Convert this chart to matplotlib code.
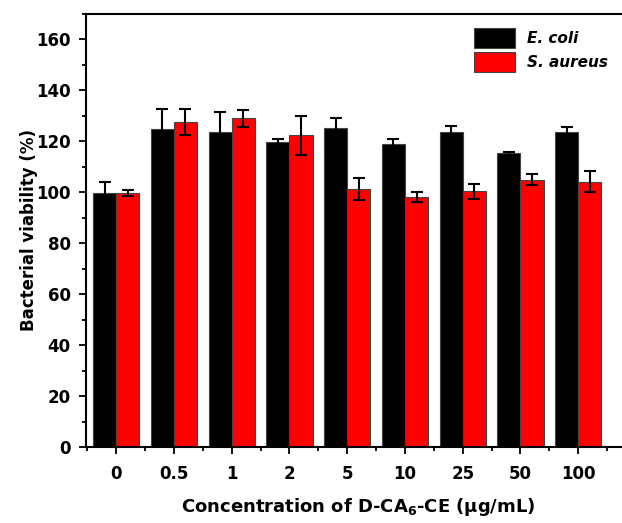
import numpy as np
import matplotlib
matplotlib.use("Agg")
import matplotlib.pyplot as plt
from matplotlib.ticker import MultipleLocator, FixedLocator

plt.rcParams['font.family'] = ['DejaVu Sans']
plt.rcParams['font.weight'] = 'bold'
plt.rcParams['mathtext.default'] = 'bf'

conc = ["0", "0.5", "1", "2", "5", "10", "25", "50", "100"]
ecoli = [99.8, 124.8, 123.8, 119.6, 125.1, 118.9, 123.8, 115.3, 123.7]
ecoli_err = [4.2, 7.8, 7.7, 1.3, 4.2, 2.1, 2.2, 0.5, 1.8]
saureus = [99.8, 127.5, 129.1, 122.3, 101.4, 98.2, 100.4, 105.0, 104.2]
saureus_err = [1.2, 5.0, 3.3, 7.6, 4.3, 2.1, 3.0, 2.2, 4.0]

x = np.arange(len(conc))
w = 0.4

fig = plt.figure(figsize=(6.22, 5.23), dpi=100)
ax = fig.add_axes([0.1383, 0.1453, 0.875, 0.828])

ekw = dict(ecolor="black", elinewidth=1.5, capsize=4, capthick=1.5)
ax.bar(x - w / 2, ecoli, w, yerr=ecoli_err, color="black", edgecolor="#444444",
       linewidth=0.8, error_kw=ekw, label="E. coli")
ax.bar(x + w / 2, saureus, w, yerr=saureus_err, color="#ff0000", edgecolor="#444444",
       linewidth=0.8, error_kw=ekw, label="S. aureus")

ax.set_xlim(-0.52, 8.9)
ax.set_ylim(0, 170)
ax.set_xticks(x)
ax.set_xticklabels(conc)
ax.xaxis.set_minor_locator(FixedLocator(np.arange(-0.5, 9, 1)))
ax.yaxis.set_major_locator(MultipleLocator(20))
ax.yaxis.set_minor_locator(MultipleLocator(10))
ax.tick_params(which="major", direction="out", length=5, width=1.3, labelsize=12)
ax.tick_params(axis="x", pad=8)
ax.tick_params(axis="y", pad=6)
ax.tick_params(which="minor", direction="out", length=3, width=1.3)
for s in ax.spines.values():
    s.set_linewidth(1.5)

ax.set_ylabel("Bacterial viability (%)", fontsize=12, fontweight="bold", labelpad=-1)
ax.set_xlabel("Concentration of D-CA$_6$-CE (\u00b5g/mL)", fontsize=13,
              fontweight="bold", labelpad=9)

leg = ax.legend(loc="upper left", bbox_to_anchor=(474 / 622, 1 - 28 / 523),
                bbox_transform=fig.transFigure, frameon=False,
                borderpad=0, borderaxespad=0,
                prop=dict(style="italic", weight="bold", size=11),
                handlelength=2.7, handleheight=1.6, handletextpad=0.8,
                labelspacing=0.3)

fig.savefig("out.png", dpi=100)
